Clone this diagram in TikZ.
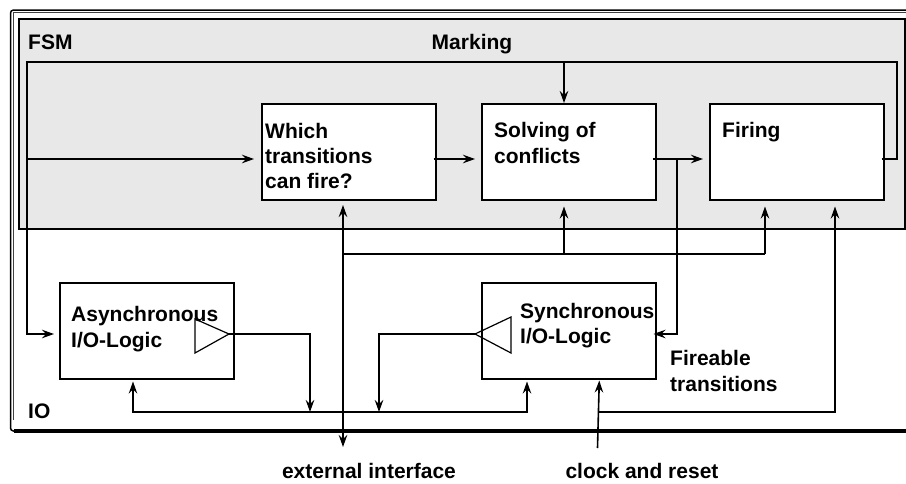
\documentclass[tikz,border=0pt]{standalone}
\usepackage{fontspec}
\setmainfont{Liberation Sans}
\usetikzlibrary{arrows.meta}
\definecolor{fsmgray}{HTML}{E8E8E8}
\begin{document}
\begin{tikzpicture}[x=1pt,y=-1pt,
  box/.style={draw, line width=1.5pt, fill=white, rectangle, inner sep=0pt, anchor=north west, minimum width=174pt, minimum height=96pt},
  lbl/.style={anchor=base west, inner sep=0pt, font=\fontsize{21}{25}\selectfont\bfseries},
  clbl/.style={lbl, anchor=base},
  ln/.style={line width=1.6pt},
  tip/.tip={Stealth[length=12pt,width=8.5pt,inset=4pt]},
  arr/.style={ln, -tip},
  tri/.style={draw, line width=1.2pt},
]
\useasboundingbox (0,0) rectangle (906,483);
% outer IO frame
\draw[line width=1.5pt, rounded corners=3pt] (906,10) -- (10.5,10) -- (10.5,431) -- (906,431);
\draw[line width=3.5pt] (14,431) -- (906,431);
\draw[line width=1pt, black!75] (906,12.8) -- (13.2,12.8) -- (13.2,420);
% FSM box
\node[box, fill=fsmgray, minimum width=886pt, minimum height=210pt] (fsm) at (18,18) {};
% boxes
\node[box] (which) at (261,103) {};
\node[box] (solve) at (481,103) {};
\node[box] (fire)  at (709,103) {};
\node[box] (async) at (59,282) {};
\node[box] (sync)  at (481,282) {};
% labels
\node[lbl] (tfsm) at (28,49) {FSM};
\node[clbl] (tmark) at (472,49) {Marking};
\node[lbl] (tw1) at (265,138) {Which};
\node[lbl] (tw2) at (265,163) {transitions};
\node[lbl] (tw3) at (265,188) {can fire?};
\node[lbl] (ts1) at (494,137) {Solving of};
\node[lbl] (ts2) at (494,163) {conflicts};
\node[lbl] (tf1) at (722,137) {Firing};
\node[lbl] (ta1) at (71,321) {Asynchronous};
\node[lbl] (ta2) at (71,347) {I/O-Logic};
\node[lbl] (ty1) at (520,318) {Synchronous};
\node[lbl] (ty2) at (520,343) {I/O-Logic};
\node[lbl] (tr1) at (670,365) {Fireable};
\node[lbl] (tr2) at (670,391) {transitions};
\node[lbl] (tio) at (28,418) {IO};
\node[clbl] (text) at (369,478) {external interface};
\node[clbl] (tclk) at (642,478) {clock and reset};
% coordinates
\coordinate (rowm) at (0,159);
\coordinate (rowio) at (0,334);
\coordinate (mk) at (564,62);
\coordinate (ext) at (343,447);
\coordinate (clk) at (597.5,448);
% marking loop
\draw[arr, shorten >=5pt] ([xshift=-3pt]fire.east |- rowm) -- (897,159) -- (897,62) -- (27,62) -- (27,334) -- (async.west |- rowio);
\draw[arr, shorten >=7pt] (27,159) -- (which.west |- rowm);
\draw[arr] (mk) -- (mk |- solve.north);
% FSM chain
\draw[arr, shorten >=6pt] ([xshift=-3pt]which.east |- rowm) -- (solve.west |- rowm);
\draw[arr, shorten >=6pt] ([xshift=-4pt]solve.east |- rowm) -- (fire.west |- rowm);
\draw[arr] (677,159) -- (677,334) -- ([xshift=-3pt]sync.east |- rowio);
% external interface
\draw[ln, tip-tip, shorten <=6pt] (343,199) -- (ext);
\draw[ln] (343,254) -- (765,254);
\draw[arr, shorten >=6pt] (564,254) -- (solve.south -| 564,0);
\draw[arr, shorten >=6pt] (765,254) -- (fire.south -| 765,0);
% clock and reset
\draw[arr, shorten >=6pt] (598,412) -- (835,412) -- (fire.south -| 835,0);
\draw[arr, shorten >=1pt] (clk) -- (sync.south -| 599.3,0);
% triangles
\draw[tri] (195,319) -- (195,353) -- (229,334) -- cycle;
\draw[tri] (511,317) -- (511,353) -- (475,334) -- cycle;
% IO bus
\draw[arr] (229,334) -- (310,334) -- (310,412);
\draw[arr] (475,334) -- (379,334) -- (379,412);
\draw[ln, tip-tip, shorten <=2pt, shorten >=2pt] (async.south -| 133,0) -- (133,412) -- (527,412) -- (sync.south -| 527,0);
\end{tikzpicture}
\end{document}
